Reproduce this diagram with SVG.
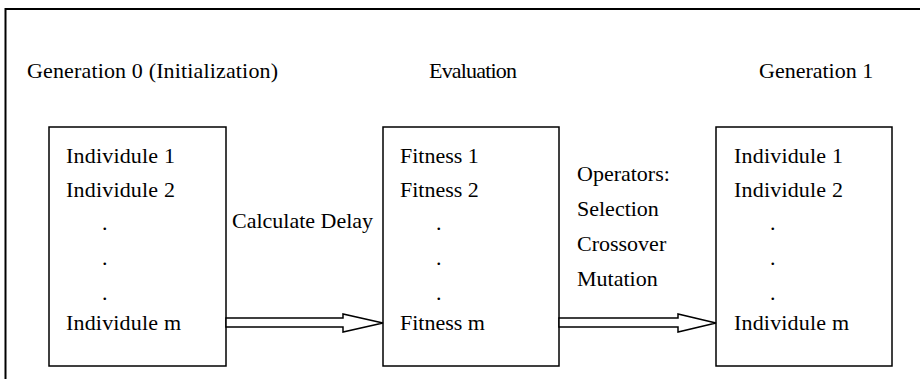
<svg xmlns="http://www.w3.org/2000/svg" width="920" height="379" viewBox="0 0 920 379">
  <style>
    text { font-family: "Liberation Serif", "Times New Roman", serif; font-size: 22px; fill: #000; }
    .frame { fill: none; stroke: #000; stroke-width: 2; }
    .box { fill: #fff; stroke: #000; stroke-width: 1.5; }
    .arrow { fill: #fff; stroke: #000; stroke-width: 1.5; stroke-linejoin: miter; }
  </style>

  <rect width="920" height="379" fill="#fff"/>

  <!-- outer frame (open on the right and bottom) -->
  <path class="frame" d="M5.5,379 V9 H920"/>

  <!-- column headings -->
  <text x="27" y="78" textLength="251">Generation 0 (Initialization)</text>
  <text x="429" y="78" textLength="88">Evaluation</text>
  <text x="759" y="78">Generation 1</text>

  <g id="gen0">
    <rect class="box" x="49" y="127" width="177" height="239"/>
    <text x="66" y="163" textLength="109">Individule 1</text>
    <text x="66" y="197" textLength="109">Individule 2</text>
    <text x="102" y="230">.</text>
    <text x="102" y="265">.</text>
    <text x="102" y="300">.</text>
    <text x="66" y="330" textLength="115">Individule m</text>
  </g>

  <g id="evaluation">
    <rect class="box" x="383" y="127" width="176" height="239"/>
    <text x="400" y="163">Fitness 1</text>
    <text x="400" y="197">Fitness 2</text>
    <text x="436" y="230">.</text>
    <text x="436" y="265">.</text>
    <text x="436" y="300">.</text>
    <text x="400" y="330">Fitness m</text>
  </g>

  <g id="gen1">
    <rect class="box" x="716" y="127" width="176" height="239"/>
    <text x="734" y="163" textLength="109">Individule 1</text>
    <text x="734" y="197" textLength="109">Individule 2</text>
    <text x="770" y="230">.</text>
    <text x="770" y="265">.</text>
    <text x="770" y="300">.</text>
    <text x="734" y="330" textLength="115">Individule m</text>
  </g>

  <g id="connectors">
    <polygon class="arrow" points="226,318 343,318 343,314 383,323 343,332 343,327 226,327"/>
    <text x="232" y="228">Calculate Delay</text>

    <polygon class="arrow" points="559,318 678,318 678,314 716,323 678,332 678,327 559,327"/>
    <text x="577" y="181">Operators:</text>
    <text x="577" y="216">Selection</text>
    <text x="577" y="251">Crossover</text>
    <text x="577" y="286">Mutation</text>
  </g>
</svg>
